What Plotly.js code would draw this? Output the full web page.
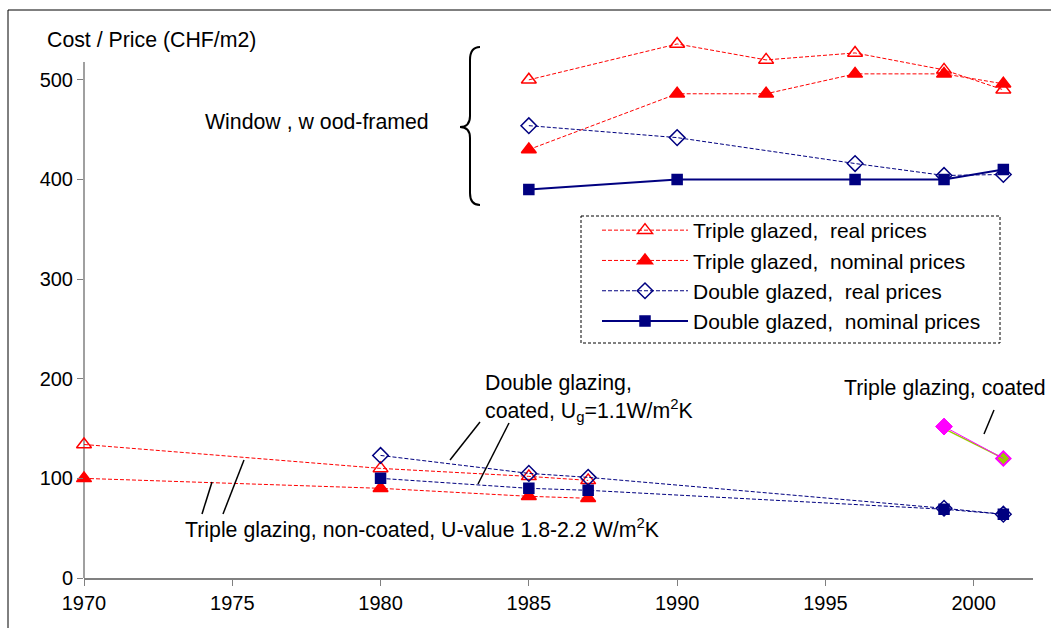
<!DOCTYPE html>
<html>
<head>
<meta charset="utf-8">
<script src="https://cdn.plot.ly/plotly-3.0.1.min.js"></script>
<style>html,body{margin:0;padding:0;background:#fff;}#chart{width:1051px;height:628px;}</style>
</head>
<body>
<div id="chart"></div>
<script>
// ---- Data ----
const yearsTripleUpper = [1985, 1990, 1993, 1996, 1999, 2001];
const tripleRealUpper = [500, 536, 520, 527, 510, 490];
const tripleNominalUpper = [430, 486, 486, 506, 506, 496];
const yearsDoubleUpper = [1985, 1990, 1996, 1999, 2001];
const doubleRealUpper = [454, 442, 416, 404, 405];
const doubleNominalUpper = [390, 400, 400, 400, 410];

const yearsTripleLower = [1970, 1980, 1985, 1987];
const tripleRealLower = [134, 110, 102, 98];
const tripleNominalLower = [100, 90, 82, 80];
const yearsDoubleLower = [1980, 1985, 1987, 1999, 2001];
const doubleRealLower = [123, 105, 101, 70, 64];
const doubleNominalLower = [100, 90, 88, 69, 64];

const yearsCoated = [1999, 2001];
const coatedA = [152, 120];
const coatedB = [150, 120];

const seriesNames = [
  'Triple glazed,\u00a0 real prices',
  'Triple glazed,\u00a0 nominal prices',
  'Double glazed,\u00a0 real prices',
  'Double glazed,\u00a0 nominal prices'
];
const xTicks = [1970, 1975, 1980, 1985, 1990, 1995, 2000];
const yTicks = [0, 100, 200, 300, 400, 500];
const yAxisTop = 518;

// ---- Styles ----
const RED = '#FF0000', NAVY = '#000080', MAG = '#FF00FF', GREEN = '#99CC00';
const FONT = 'Arial, "Liberation Sans", sans-serif';

function tr(x, y, name, color, dash, width, symbol, size, legend, group) {
  return {
    x: x, y: y, type: 'scatter', mode: 'lines+markers', name: name,
    showlegend: legend, legendgroup: group, cliponaxis: false,
    line: {color: color, dash: dash, width: width},
    marker: {symbol: symbol, size: size, color: color, line: {color: color, width: 1.5}},
    hoverinfo: 'x+y'
  };
}

const traces = [
  tr(yearsTripleLower, tripleRealLower, seriesNames[0], RED, '4px,2px', 1, 'triangle-up-open', 13, false, 'g1'),
  tr(yearsTripleLower, tripleNominalLower, seriesNames[1], RED, '4px,2px', 1, 'triangle-up', 13, false, 'g2'),
  tr(yearsDoubleLower, doubleRealLower, seriesNames[2], NAVY, '4px,2px', 1, 'diamond-open', 12, false, 'g3'),
  tr(yearsDoubleLower, doubleNominalLower, seriesNames[3], NAVY, '4px,2px', 1, 'square', 10, false, 'g4'),
  tr(yearsTripleUpper, tripleRealUpper, seriesNames[0], RED, '4px,2px', 1, 'triangle-up-open', 13, true, 'g1'),
  tr(yearsTripleUpper, tripleNominalUpper, seriesNames[1], RED, '4px,2px', 1, 'triangle-up', 13, true, 'g2'),
  tr(yearsDoubleUpper, doubleRealUpper, seriesNames[2], NAVY, '4px,2px', 1, 'diamond-open', 12, true, 'g3'),
  tr(yearsDoubleUpper, doubleNominalUpper, seriesNames[3], NAVY, 'solid', 2, 'square', 10, true, 'g4'),
  {
    x: yearsCoated, y: coatedB, type: 'scatter', mode: 'lines+markers', showlegend: false, cliponaxis: false,
    line: {color: GREEN, width: 1.5},
    marker: {symbol: 'diamond', size: 11, color: GREEN, opacity: [0, 1], line: {color: MAG, width: 2}}
  },
  {
    x: yearsCoated, y: coatedA, type: 'scatter', mode: 'lines+markers', showlegend: false, cliponaxis: false,
    line: {color: MAG, width: 1},
    marker: {symbol: 'diamond', size: 13, color: MAG, opacity: [1, 0], line: {color: MAG, width: 1}}
  }
];

// pixel -> paper helpers for decorations
const L = 84, R = 18, T = 35, B = 50, W = 1051 - L - R, H = 628 - T - B;
const px = v => (v - L) / W;
const py = v => (628 - B - v) / H;
const ANN_SIZE = 21.3;

function ann(text, x, y, size) {
  return {text: text, xref: 'paper', yref: 'paper', x: px(x), y: py(y),
    xanchor: 'left', yanchor: 'middle', showarrow: false,
    font: {family: FONT, size: size || ANN_SIZE, color: '#000'}};
}
function seg(x0, y0, x1, y1) {
  return {type: 'line', xref: 'paper', yref: 'paper', x0: px(x0), y0: py(y0), x1: px(x1), y1: py(y1),
    line: {color: '#000', width: 1.5}};
}
function pt(x, y) { return px(x) + ',' + py(y); }
const bracePath = 'M' + pt(480, 47) + ' Q' + pt(470, 47) + ' ' + pt(470, 60) +
  ' L' + pt(470, 116) + ' Q' + pt(470, 127) + ' ' + pt(460, 127) +
  ' Q' + pt(470, 127) + ' ' + pt(470, 138) + ' L' + pt(470, 193) +
  ' Q' + pt(470, 205) + ' ' + pt(480, 205);

const layout = {
  width: 1051, height: 628,
  margin: {l: L, r: R, t: T, b: B, pad: 0},
  paper_bgcolor: '#fff', plot_bgcolor: '#fff',
  font: {family: FONT, size: 20, color: '#000'},
  showlegend: true,
  legend: {
    x: px(597), y: py(210), xanchor: 'left', yanchor: 'top',
    bgcolor: 'rgba(0,0,0,0)', borderwidth: 0,
    font: {family: FONT, size: 21, color: '#000'},
    itemwidth: 86, tracegroupgap: 2, traceorder: 'normal'
  },
  xaxis: {
    range: [1970, 2002], tickvals: xTicks, ticktext: xTicks.map(String),
    showgrid: false, zeroline: false, showline: true, linecolor: '#808080', linewidth: 1.5,
    ticks: 'outside', ticklen: 6, tickcolor: '#808080', tickwidth: 1,
    tickfont: {family: FONT, size: 20, color: '#000'}, fixedrange: true
  },
  yaxis: {
    range: [0, 545], tickvals: yTicks, ticktext: yTicks.map(String),
    showgrid: false, zeroline: false, showline: false,
    ticks: 'outside', ticklen: 6, tickcolor: '#808080', tickwidth: 1,
    tickfont: {family: FONT, size: 20, color: '#000'}, fixedrange: true
  },
  annotations: [
    ann('Cost / Price (CHF/m2)', 45, 40),
    ann('Window , w ood-framed', 203, 122),
    ann('Double glazing,', 483, 383),
    ann('coated, U<sub>g</sub>=1.1W/m<sup>2</sup>K', 483, 410),
    ann('Triple glazing, non-coated, U-value 1.8-2.2 W/m<sup>2</sup>K', 183, 528),
    ann('Triple glazing, coated', 842, 388)
  ],
  shapes: [
    // y axis line (stops below the top of the plotting range)
    {type: 'line', xref: 'paper', yref: 'y', x0: 0, x1: 0, y0: 0, y1: yAxisTop, line: {color: '#808080', width: 1.5}, layer: 'below'},
    // outer frame (top and left edges visible)
    {type: 'line', xref: 'paper', yref: 'paper', x0: px(8), y0: py(10), x1: px(1051), y1: py(10), line: {color: '#000', width: 1}},
    {type: 'line', xref: 'paper', yref: 'paper', x0: px(8), y0: py(10), x1: px(8), y1: py(628), line: {color: '#000', width: 1}},
    // legend box
    {type: 'rect', xref: 'paper', yref: 'paper', x0: px(581), y0: py(216), x1: px(1000), y1: py(343),
      line: {color: '#000', width: 1, dash: '3px,2px'}},
    // brace
    {type: 'path', xref: 'paper', yref: 'paper', path: bracePath, line: {color: '#000', width: 2}},
    // leader lines
    seg(450, 460, 480, 422),
    seg(478, 484, 509, 423),
    seg(202, 514, 212, 482),
    seg(223, 514, 244, 460),
    seg(984, 434, 994, 410)
  ]
};

Plotly.newPlot('chart', traces, layout, {displayModeBar: false, staticPlot: true});
</script>
</body>
</html>
